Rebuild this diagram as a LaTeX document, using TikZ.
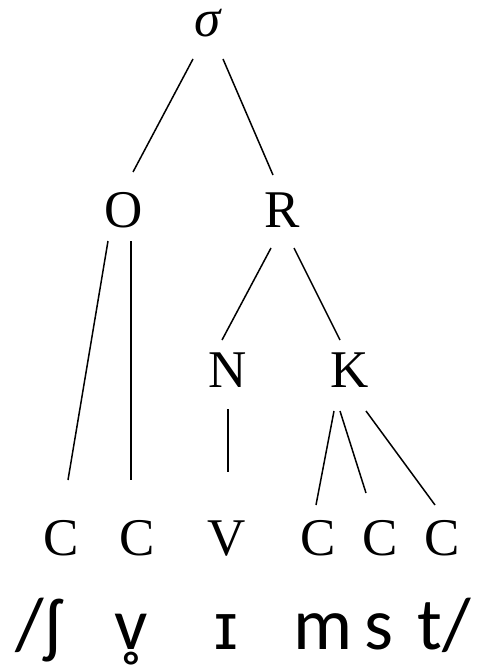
\documentclass[tikz,border=0pt]{standalone}
\usepackage{fontspec}
\setmainfont{Liberation Serif}
\newfontfamily\ipafont{Carlito}
\newfontfamily\ipaalt{Liberation Sans}
\usepackage{tikz}
\usetikzlibrary{positioning, calc}

\begin{document}
\begin{tikzpicture}[x=1pt, y=-1pt,
    cat/.style={anchor=base, inner sep=0pt, font=\fontsize{53}{53}\selectfont},
    seg/.style={anchor=base, inner sep=0pt, font=\ipafont\fontsize{74}{74}\selectfont},
    branch/.style={line width=1.5pt}]
    \useasboundingbox (0,0) rectangle (486,668);

    % syllable tree
    \node[cat, text height=0.5em] (syl) at (208, 37) {\textit{σ}};
    \node[cat] (ons) at (124, 227) {O};
    \node[cat] (rhy) at (282, 227) {R};
    \node[cat] (nuc) at (228, 387) {N};
    \node[cat] (cod) at (350, 387) {K};

    % skeleton
    \node[cat] (c1) at (61, 555) {C};
    \node[cat] (c2) at (137, 555) {C};
    \node[cat] (v1) at (227, 555) {V};
    \node[cat] (c3) at (318, 555) {C};
    \node[cat] (c4) at (380, 555) {C};
    \node[cat] (c5) at (442, 555) {C};

    % segments
    \node[seg] (s1) at (39, 649) {/ʃ};
    \node[seg, text depth=0pt] (s2) at (131, 649)
      {\ooalign{v\cr\hidewidth\raisebox{-0.75em}{˚}\hidewidth\cr}};
    \node[seg] (s3) at (226, 649) {\ipaalt\fontsize{66}{66}\selectfont ɪ};
    \node[seg] (s4) at (323, 649) {m};
    \node[seg] (s5) at (379, 649) {s};
    \node[seg] (s6) at (444, 649) {t/};

    \draw[branch] ([shift={(-15,22)}]syl.base) -- ([shift={(9,-55)}]ons.base);
    \draw[branch] ([shift={(15,22)}]syl.base) -- ([shift={(-9,-52)}]rhy.base);
    \draw[branch] ([shift={(-16,14)}]ons.base) -- ([shift={(7,-75)}]c1.base);
    \draw[branch] ([shift={(7,14)}]ons.base) -- ([shift={(-6,-75)}]c2.base);
    \draw[branch] ([shift={(-11,21)}]rhy.base) -- ([shift={(-6,-47)}]nuc.base);
    \draw[branch] ([shift={(12,21)}]rhy.base) -- ([shift={(-10,-47)}]cod.base);
    \draw[branch] ([shift={(0,22)}]nuc.base) -- ([shift={(1,-83)}]v1.base);
    \draw[branch] ([shift={(-16,24)}]cod.base) -- ([shift={(-2,-50)}]c3.base);
    \draw[branch] ([shift={(-10,24)}]cod.base) -- ([shift={(-14,-62)}]c4.base);
    \draw[branch] ([shift={(16,24)}]cod.base) -- ([shift={(-7,-50)}]c5.base);
\end{tikzpicture}
\end{document}
